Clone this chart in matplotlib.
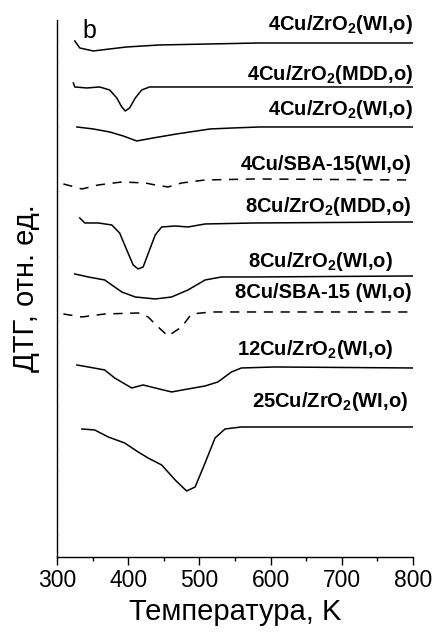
import matplotlib
matplotlib.use("Agg")
import matplotlib.pyplot as plt
from matplotlib.ticker import MultipleLocator

plt.rcParams['font.family'] = ['Liberation Sans', 'DejaVu Sans']
plt.rcParams['mathtext.fontset'] = 'custom'
plt.rcParams['mathtext.rm'] = 'Liberation Sans'
plt.rcParams['mathtext.bf'] = 'Liberation Sans:bold'

# DTG curves (arbitrary units, already shifted vertically), T in K
t1 = [325, 332, 351, 374, 398, 444, 515, 585, 800]
y1 = [51.6, 50.9, 50.6, 50.8, 51.0, 51.2, 51.3, 51.4, 51.4]

t2 = [323, 325, 342, 360, 374, 384, 391, 396, 402, 410, 419, 430, 468, 585, 800]
y2 = [47.4, 47.0, 46.9, 47.0, 46.7, 45.9, 45.0, 44.6, 44.9, 45.9, 46.7, 47.0,
      47.0, 47.0, 47.0]

t3 = [328, 351, 374, 393, 412, 435, 468, 515, 547, 585, 800]
y3 = [43.0, 42.8, 42.5, 42.1, 41.6, 41.9, 42.3, 42.8, 42.9, 43.0, 43.0]

t4 = [309, 335, 358, 391, 424, 438, 456, 475, 508, 578, 795]
y4 = [37.3, 36.8, 37.2, 37.5, 37.4, 37.2, 37.0, 37.4, 37.7, 37.8, 37.7]

t5 = [332, 339, 358, 377, 388, 398, 407, 414, 421, 430, 438, 447, 466, 484,
      508, 578, 800]
y5 = [33.9, 33.4, 33.4, 33.2, 32.4, 30.7, 29.2, 28.8, 29.0, 30.7, 32.2, 33.0,
      33.1, 33.0, 33.3, 33.4, 33.5]

t6 = [325, 344, 367, 391, 410, 438, 461, 484, 508, 531, 578, 800]
y6 = [28.3, 28.0, 27.7, 26.5, 26.0, 25.8, 26.0, 26.7, 27.7, 28.0, 28.0, 28.1]

t7 = [309, 335, 367, 414, 428, 442, 456, 475, 489, 517, 578, 793]
y7 = [24.3, 24.0, 24.3, 24.4, 24.0, 23.0, 22.1, 23.0, 24.3, 24.5, 24.5, 24.5]

t8 = [328, 344, 367, 381, 405, 421, 438, 461, 484, 508, 526, 545, 559, 606, 800]
y8 = [19.2, 19.0, 18.7, 17.9, 16.9, 17.2, 16.9, 16.5, 16.8, 17.1, 17.5, 18.5,
      18.9, 19.0, 18.9]

t9 = [335, 353, 372, 395, 414, 428, 447, 466, 482, 494, 508, 522, 536, 559,
      606, 800]
y9 = [12.8, 12.7, 12.0, 11.4, 10.5, 9.9, 9.2, 7.7, 6.6, 7.0, 9.4, 11.9, 12.8,
      13.0, 13.0, 13.0]

labels = [r'4Cu/ZrO$_\mathbf{2}$(WI,o)', r'4Cu/ZrO$_\mathbf{2}$(MDD,o)',
          r'4Cu/ZrO$_\mathbf{2}$(WI,o)', '4Cu/SBA-15(WI,o)',
          r'8Cu/ZrO$_\mathbf{2}$(MDD,o)', r'8Cu/ZrO$_\mathbf{2}$(WI,o)',
          '8Cu/SBA-15 (WI,o)', r'12Cu/ZrO$_\mathbf{2}$(WI,o)',
          r'25Cu/ZrO$_\mathbf{2}$(WI,o)']
label_t = [800, 800, 800, 798, 798, 772, 798, 772, 793]
label_y = [52.7, 47.7, 44.2, 38.7, 34.5, 29.0, 25.9, 20.2, 15.0]

fig = plt.figure(figsize=(4.37, 6.32), dpi=100)
ax = fig.add_axes([0.1304, 0.1187, 0.8146, 0.8497])

curves = [(t1, y1, '-'), (t2, y2, '-'), (t3, y3, '-'), (t4, y4, '--'),
          (t5, y5, '-'), (t6, y6, '-'), (t7, y7, '--'), (t8, y8, '-'),
          (t9, y9, '-')]
for t, y, ls in curves:
    if ls == '--':
        ax.plot(t, y, color='black', lw=1.1, dashes=(6, 5))
    else:
        ax.plot(t, y, color='black', lw=1.1, solid_joinstyle='round')

for lab, lt, ly in zip(labels, label_t, label_y):
    ax.text(lt, ly, lab, ha='right', va='baseline', fontsize=14.5,
            fontweight='bold', clip_on=False)

ax.text(336, 51.9, 'b', fontsize=18, va='baseline', ha='left')

ax.set_xlim(300, 800)
ax.set_ylim(0, 53.7)
ax.spines['top'].set_visible(False)
ax.spines['right'].set_visible(False)
ax.spines['left'].set_linewidth(1.0)
ax.spines['bottom'].set_linewidth(1.0)
ax.xaxis.set_major_locator(MultipleLocator(100))
ax.xaxis.set_minor_locator(MultipleLocator(50))
ax.tick_params(axis='x', which='major', direction='out', length=6, width=1,
               labelsize=16.5, pad=3)
ax.tick_params(axis='x', which='minor', direction='out', length=3, width=1)
ax.yaxis.set_major_locator(MultipleLocator(2.15))
ax.tick_params(axis='y', which='major', direction='in', length=2, width=0.5,
               color='#e2e2e2', labelleft=False)

ax.set_xlabel('Температура, K', fontsize=21, labelpad=4)
ax.set_ylabel('ДТГ, отн. ед.', fontsize=21, labelpad=12)

fig.savefig('out.png', dpi=100)
